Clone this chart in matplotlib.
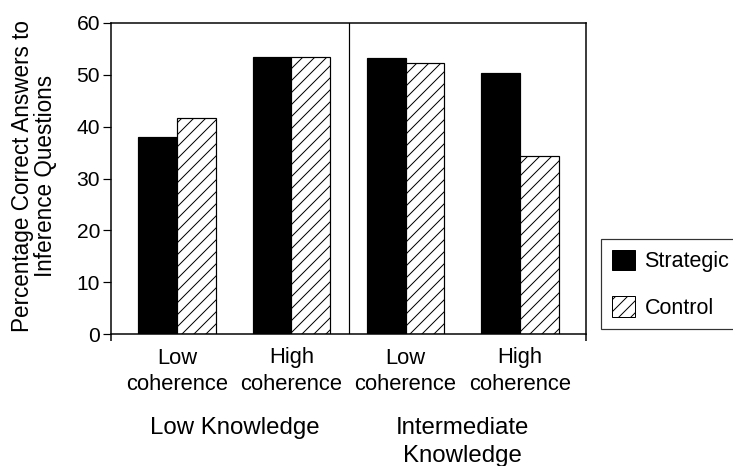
import matplotlib
matplotlib.use("Agg")
import matplotlib.pyplot as plt
import numpy as np
from matplotlib.patches import Patch

plt.rcParams['font.family'] = ['Liberation Sans', 'DejaVu Sans']
plt.rcParams['hatch.linewidth'] = 1.0

coherence_labels = ["Low\ncoherence", "High\ncoherence", "Low\ncoherence", "High\ncoherence"]
knowledge_labels = ["Low Knowledge", "Intermediate\nKnowledge"]
strategic = [38.1, 53.5, 53.2, 50.4]
control = [41.6, 53.5, 52.3, 34.4]
series_names = ["Strategic", "Control"]
yticks = [0, 10, 20, 30, 40, 50, 60]

W, H, DPI = 733, 466, 72
fig = plt.figure(figsize=(W / DPI, H / DPI), dpi=DPI)
ax = fig.add_axes([111 / W, 1 - 334 / H, (586 - 111) / W, (334 - 23) / H])

x = np.arange(len(coherence_labels))
bw = 0.34
ax.bar(x - bw / 2, strategic, bw, color='black', edgecolor='black', linewidth=1.2)
ax.bar(x + bw / 2, control, bw, color='white', edgecolor='black', linewidth=1.2, hatch='//')

xl = (-0.58, 3.58)
ax.set_xlim(*xl)
ax.set_ylim(0, 60)
ax.axvline(1.5, color='black', linewidth=1.2)

ax.set_yticks(yticks)
ax.tick_params(axis='y', direction='out', length=8, width=1.2, labelsize=21, pad=3)
ax.set_xticks([xl[0], xl[1]])
ax.set_xticklabels([])
ax.tick_params(axis='x', direction='out', length=7, width=1.5)
for s in ax.spines.values():
    s.set_linewidth(1.5)

px = lambda v: v / H  # pixel -> figure fraction (vertical)
for xi, lab in zip(x, coherence_labels):
    xf = fig.transFigure.inverted().transform(ax.transData.transform((xi, 0)))[0]
    fig.text(xf, 1 - px(358), lab.split("\n")[0], ha='center', va='center', fontsize=22)
    fig.text(xf, 1 - px(385), lab.split("\n")[1], ha='center', va='center', fontsize=22)

for gx, lab in zip([0.5, 2.5], knowledge_labels):
    xf = fig.transFigure.inverted().transform(ax.transData.transform((gx, 0)))[0]
    for k, line in enumerate(lab.split("\n")):
        fig.text(xf, 1 - px(428 + 28 * k), line, ha='center', va='center', fontsize=24)

fig.text(34 / W, 1 - 176 / H, "Percentage Correct Answers to\nInference Questions",
         rotation=90, ha='center', va='center', fontsize=22.5, multialignment='center',
         linespacing=1.02)

handles = [Patch(facecolor='black', edgecolor='black'),
           Patch(facecolor='white', edgecolor='black', hatch='//')]
leg = fig.legend(handles, series_names, loc='upper left',
                 bbox_to_anchor=(601 / W, 1 - 239 / H), borderaxespad=0,
                 fontsize=21.5, handlelength=1.07, handleheight=1.1,
                 handletextpad=0.45, labelspacing=1.1, borderpad=0.5,
                 fancybox=False, frameon=True, edgecolor='black')
leg.get_frame().set_linewidth(1.2)

fig.savefig("out.png", dpi=DPI)
